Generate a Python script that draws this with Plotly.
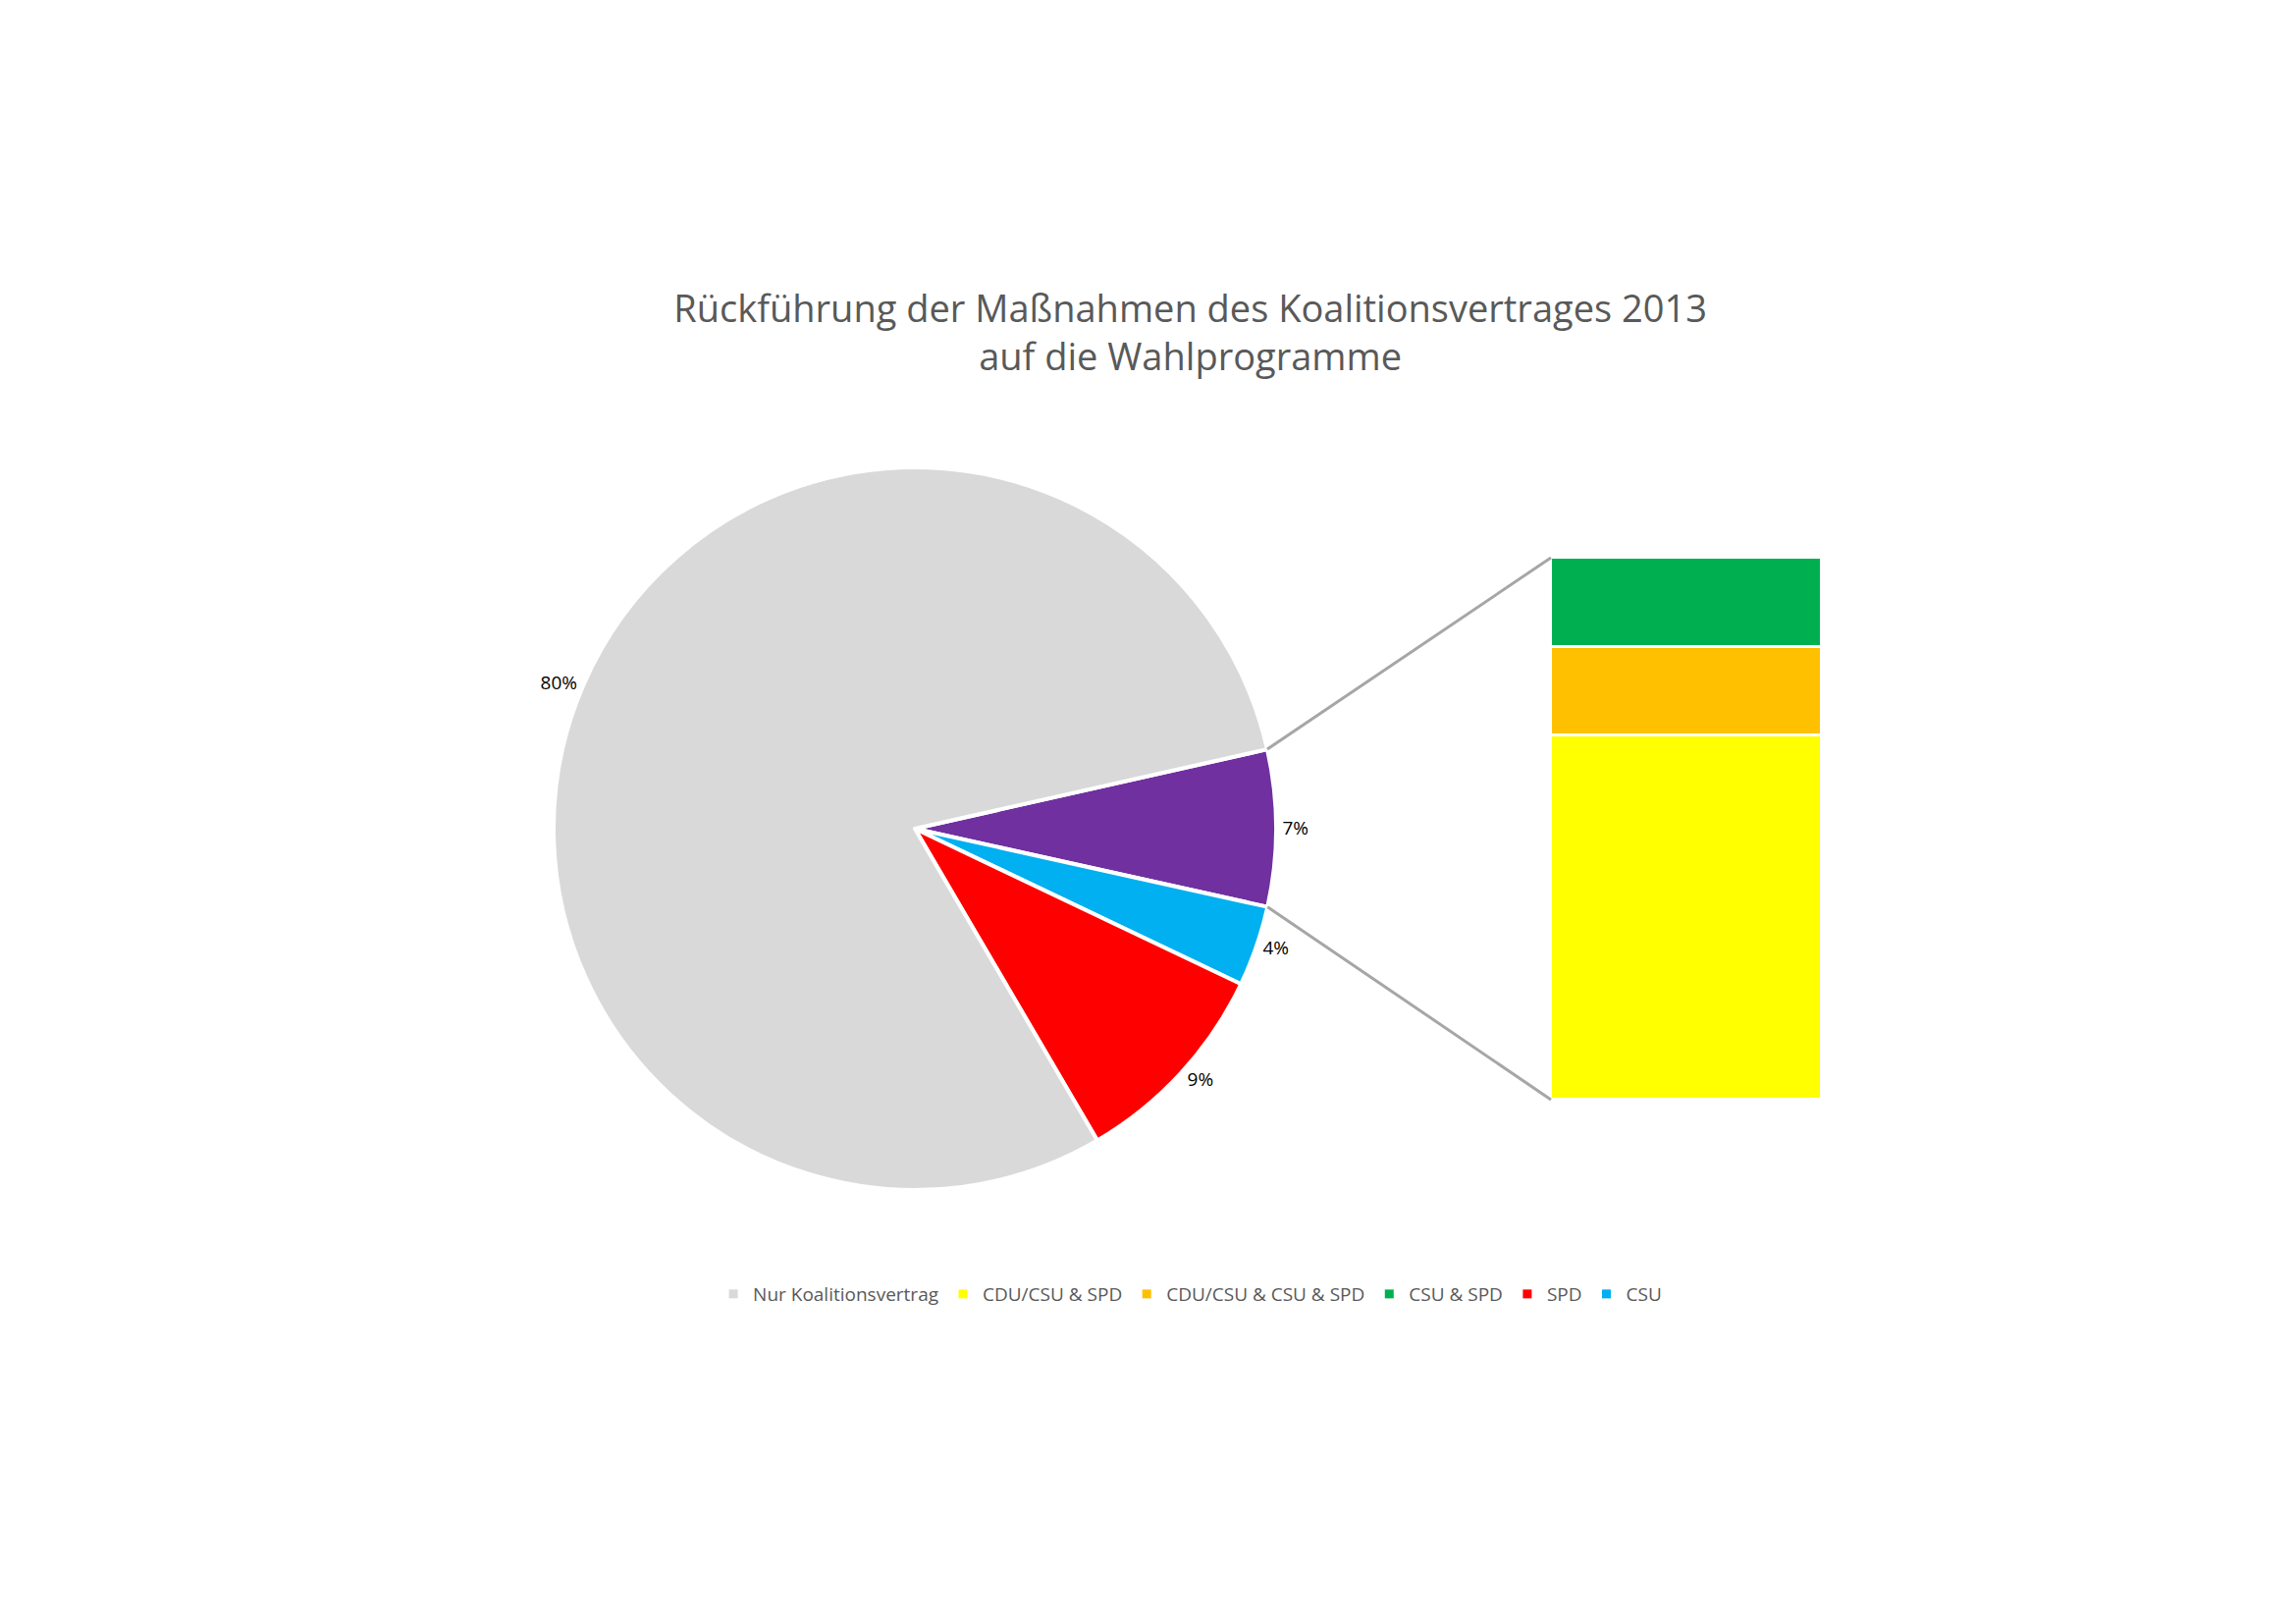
import plotly.graph_objects as go
import math

W, H = 2339, 1654
pie_labels = ["Sonstige", "CSU", "SPD", "Nur Koalitionsvertrag"]
pie_values = [7.0, 3.6, 9.5, 79.9]
pie_text = ["7%", "4%", "9%", "80%"]
pie_colors = ["#7030A0", "#00B0F0", "#FF0000", "#D9D9D9"]

bar_labels = ["CDU/CSU & SPD", "CDU/CSU & CSU & SPD", "CSU & SPD"]
bar_values = [4.7, 1.15, 1.15]
bar_text = ["5%", "1%", "1%"]
bar_colors = ["#FFFF00", "#FFC000", "#00B050"]

legend_labels = ["CSU", "SPD", "CSU & SPD", "CDU/CSU & CSU & SPD", "CDU/CSU & SPD", "Nur Koalitionsvertrag"]
legend_colors = ["#00B0F0", "#FF0000", "#00B050", "#FFC000", "#FFFF00", "#D9D9D9"]

cx, cy, R = 924, 836, 368
bx0, bx1, by0, by1 = 1572, 1848, 560, 1112
rot = 77.3

fig = go.Figure()
fig.add_trace(go.Pie(values=pie_values, labels=pie_labels, text=pie_text, textinfo="text",
                     textposition="outside", sort=False, direction="clockwise", rotation=rot,
                     marker=dict(colors=pie_colors, line=dict(color="white", width=4)),
                     textfont=dict(size=19, color="#000000"), showlegend=False,
                     domain=dict(x=[(cx-R)/W, (cx+R)/W], y=[(H-cy-R)/H, (H-cy+R)/H])))

for lab, v, c in zip(bar_labels, bar_values, bar_colors):
    fig.add_trace(go.Bar(x=[0], y=[v], width=1, marker=dict(color=c, line=dict(color="white", width=3)),
                         xaxis="x2", yaxis="y2", showlegend=False, name=lab))

for lab, c in zip(legend_labels, legend_colors):
    fig.add_trace(go.Scatter(x=[None], y=[None], mode="markers", name=lab,
                             marker=dict(symbol="square", size=9, color=c)))

total = sum(bar_values)
cum = 0
for i, (v, t) in enumerate(zip(bar_values, bar_text)):
    mid = cum + v / 2
    cum += v
    xoff = 0.62 if i != 1 else 0.66
    fig.add_annotation(x=xoff, y=mid, xref="x2", yref="y2", text=t, showarrow=False,
                       xanchor="left", font=dict(size=19, color="#000"))
    if i == 1:
        fig.add_shape(type="line", xref="x2", yref="y2", x0=0.52, x1=0.62, y0=mid, y1=mid,
                      line=dict(color="#7F7F7F", width=1.5))

# connector lines from purple slice edges to bar corners
a_top = math.radians(90 - rot)
a_bot = math.radians(90 - rot - pie_values[0] / sum(pie_values) * 360)
def P(x, y):
    return x / W, 1 - y / H
for a, by in [(a_top, by0), (a_bot, by1)]:
    px, py = cx + R * math.cos(a), cy - R * math.sin(a)
    x0, y0 = P(px, py); x1, y1 = P(bx0, by)
    fig.add_shape(type="line", xref="paper", yref="paper", x0=x0, y0=y0, x1=x1, y1=y1,
                  line=dict(color="#A6A6A6", width=3))

fig.update_layout(
    width=W, height=H, margin=dict(l=0, r=0, t=0, b=0), paper_bgcolor="white", plot_bgcolor="white",
    font=dict(family="Open Sans", color="#595959"),
    barmode="stack", bargap=0,
    title=dict(text="Rückführung der Maßnahmen des Koalitionsvertrages 2013<br>auf die Wahlprogramme",
               x=0.515, xanchor="center", y=1 - 320 / H, yanchor="middle",
               font=dict(size=38, color="#595959")),
    xaxis=dict(visible=False, domain=[0, 0.01]), yaxis=dict(visible=False, domain=[0, 0.01]),
    xaxis2=dict(domain=[bx0 / W, bx1 / W], range=[-0.5, 0.5], visible=False, anchor="y2", fixedrange=True),
    yaxis2=dict(domain=[1 - by1 / H, 1 - by0 / H], range=[0, total], visible=False, anchor="x2"),
    legend=dict(orientation="h", x=0.515, xanchor="center", y=1 - 1310 / H, yanchor="middle",
                font=dict(size=19, color="#595959")),
)
fig.write_html("out.html")
